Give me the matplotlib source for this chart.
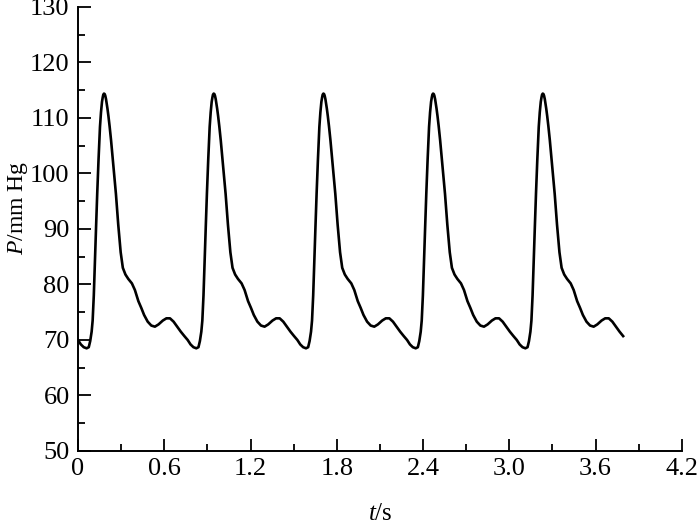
import numpy as np
import matplotlib.pyplot as plt
from matplotlib.ticker import MultipleLocator

plt.rcParams['font.family'] = ['Liberation Serif', 'DejaVu Serif']
plt.rcParams['mathtext.fontset'] = 'custom'
plt.rcParams['mathtext.it'] = 'Liberation Serif:italic'
plt.rcParams['mathtext.rm'] = 'Liberation Serif'

# one heartbeat (time inside the beat in s, pressure in mm Hg)
beat_t = [0.000, 0.020, 0.040, 0.060, 0.075, 0.085, 0.095, 0.102, 0.110, 0.118,
          0.126, 0.134, 0.143, 0.153, 0.160, 0.167, 0.172, 0.176, 0.181, 0.186,
          0.190, 0.195, 0.200, 0.205, 0.212, 0.220, 0.230, 0.245, 0.264, 0.280,
          0.297, 0.312, 0.330, 0.350, 0.375, 0.396, 0.420, 0.440, 0.460, 0.485,
          0.510, 0.535, 0.560, 0.590, 0.615, 0.640, 0.665, 0.690, 0.715, 0.740]
beat_p = [70.0, 69.2, 68.7, 68.5, 68.7, 69.8, 71.5, 73.5, 78.0, 84.4,
          90.5, 96.5, 102.5, 108.4, 111.0, 112.9, 113.7, 114.2, 114.4, 114.3,
          114.0, 113.4, 112.6, 111.7, 110.3, 108.5, 106.0, 101.8, 96.3, 90.8,
          85.8, 83.0, 81.8, 81.0, 80.2, 79.0, 77.0, 75.8, 74.5, 73.3,
          72.6, 72.4, 72.8, 73.5, 73.9, 73.9, 73.3, 72.4, 71.5, 70.7]
period = 0.763
n_beats = 5
t_end = 3.80

xticks = [0, 0.6, 1.2, 1.8, 2.4, 3.0, 3.6, 4.2]
xtick_labels = ['0', '0.6', '1.2', '1.8', '2.4', '3.0', '3.6', '4.2']
yticks = [50, 60, 70, 80, 90, 100, 110, 120, 130]

t = np.concatenate([np.array(beat_t) + k * period for k in range(n_beats)])
p = np.tile(beat_p, n_beats)
keep = t <= t_end
t = t[keep]
p = p[keep]

fig = plt.figure(figsize=(7, 5.25), dpi=100)
ax = fig.add_axes([0.1114, 0.141, 0.8626, 0.8457])

ax.plot(t, p, color='black', lw=1.9, solid_joinstyle='round')

ax.set_xlim(0, 4.2)
ax.set_ylim(50, 130)
ax.set_xticks(xticks)
ax.set_xticklabels(xtick_labels)
ax.set_yticks(yticks)
ax.xaxis.set_minor_locator(MultipleLocator(0.3))
ax.yaxis.set_minor_locator(MultipleLocator(5))

for s in ['top', 'right']:
    ax.spines[s].set_visible(False)
for s in ['left', 'bottom']:
    ax.spines[s].set_linewidth(1.4)

ax.tick_params(which='major', direction='in', length=9, width=1.3, labelsize=19)
ax.tick_params(axis='x', which='major', pad=5)
ax.tick_params(axis='y', which='major', pad=6)
ax.tick_params(which='minor', direction='in', length=5, width=1.3)

ax.set_xlabel('$t$/s', fontsize=18)
ax.set_ylabel('$P$/mm Hg', fontsize=17)
ax.xaxis.set_label_coords(0.5, -0.118)
ax.yaxis.set_label_coords(-0.079, 0.548)

fig.savefig('out.png', dpi=100)
